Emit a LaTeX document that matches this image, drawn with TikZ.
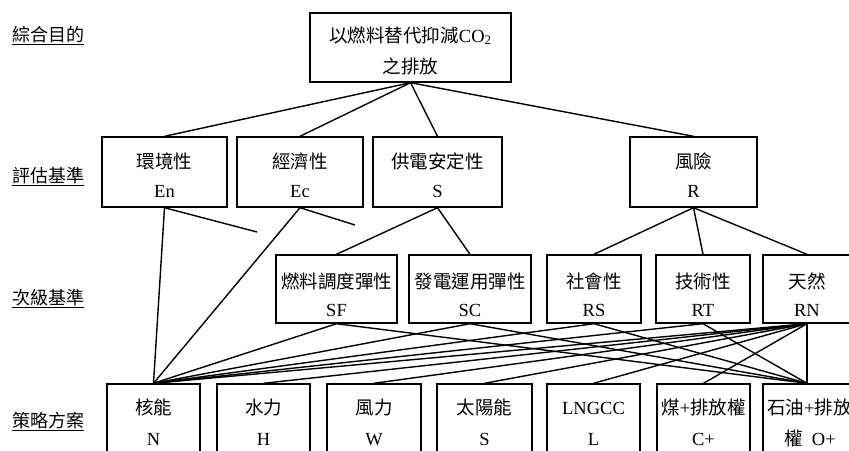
\documentclass[tikz,border=0pt]{standalone}
\usepackage{fontspec}
\setmainfont{Liberation Serif}
\newfontfamily\cjk{Noto Sans CJK TC}
\begin{document}
\begin{tikzpicture}[x=1pt,y=-1pt,
  box/.style={draw,line width=1.4pt,rectangle,inner sep=0pt},
  ln/.style={line width=1.4pt},
  tc/.style={anchor=base,inner sep=0pt,font=\fontsize{18.5}{22}\selectfont},
  lv/.style={anchor=base,inner sep=0pt,font=\cjk\fontsize{18}{22}\selectfont}]
\useasboundingbox (0,0) rectangle (849,450);
\fill[white] (0,0) rectangle (849,450);
\begin{scope}
\clip (0,0) rectangle (849,450);
% level labels
\node[lv] (L1) at (48.5,41.5) {\underline{綜合目的}};
\node[lv] (L2) at (48.5,182) {\underline{評估基準}};
\node[lv] (L3) at (48.5,304.5) {\underline{次級基準}};
\node[lv] (L4) at (48.5,427) {\underline{策略方案}};
% goal
\node[box,minimum width=201pt,minimum height=69pt] (G) at (410.5,47.5) {};
\node[tc] (Ga) at (410.5,42) {{\cjk 以燃料替代抑減}CO\textsubscript{2}};
\node[tc] (Gb) at (410.5,73) {\cjk 之排放};
% criteria
\node[box,minimum width=125pt,minimum height=70pt] (En) at (164.5,172) {};
\node[box,minimum width=126pt,minimum height=70pt] (Ec) at (300,172) {};
\node[box,minimum width=129pt,minimum height=70pt] (S) at (437.5,172) {};
\node[box,minimum width=127pt,minimum height=70pt] (R) at (693.5,172) {};
\node[tc] (Ena) at (164.5,168.5) {\cjk 環境性};
\node[tc] (Enb) at (164.5,197) {En};
\node[tc] (Eca) at (300,168.5) {\cjk 經濟性};
\node[tc] (Ecb) at (300,197) {Ec};
\node[tc] (Sa) at (437.5,168.5) {\cjk 供電安定性};
\node[tc] (Sb) at (437.5,197) {S};
\node[tc] (Ra) at (693.5,168.5) {\cjk 風險};
\node[tc] (Rb) at (693.5,197) {R};
% sub-criteria
\node[box,minimum width=121pt,minimum height=68pt] (SF) at (336.5,289) {};
\node[box,minimum width=122pt,minimum height=68pt] (SC) at (470,289) {};
\node[box,minimum width=94pt,minimum height=68pt] (RS) at (594,289) {};
\node[box,minimum width=94pt,minimum height=68pt] (RT) at (703,289) {};
\node[box,minimum width=88pt,minimum height=68pt] (RN) at (807,289) {};
\node[tc] (SFa) at (336.5,288) {\cjk 燃料調度彈性};
\node[tc] (SFb) at (336.5,316) {SF};
\node[tc] (SCa) at (470,288) {\cjk 發電運用彈性};
\node[tc] (SCb) at (470,316) {SC};
\node[tc] (RSa) at (594,288) {\cjk 社會性};
\node[tc] (RSb) at (594,316) {RS};
\node[tc] (RTa) at (703,288) {\cjk 技術性};
\node[tc] (RTb) at (703,316) {RT};
\node[tc] (RNa) at (807,288) {\cjk 天然};
\node[tc] (RNb) at (807,316) {RN};
% alternatives
\node[box,minimum width=93pt,minimum height=80pt] (N) at (153.5,424) {};
\node[box,minimum width=93pt,minimum height=80pt] (H) at (263.5,424) {};
\node[box,minimum width=94pt,minimum height=80pt] (W) at (374,424) {};
\node[box,minimum width=95pt,minimum height=80pt] (SS) at (484.5,424) {};
\node[box,minimum width=93pt,minimum height=80pt] (L) at (593.5,424) {};
\node[box,minimum width=93pt,minimum height=80pt] (C) at (703.5,424) {};
\node[box,minimum width=88pt,minimum height=80pt] (O) at (807,424) {};
\node[tc] (Na) at (153.5,414.5) {\cjk 核能};
\node[tc] (Nb) at (153.5,445) {N};
\node[tc] (Ha) at (263.5,414.5) {\cjk 水力};
\node[tc] (Hb) at (263.5,445) {H};
\node[tc] (Wa) at (374,414.5) {\cjk 風力};
\node[tc] (Wb) at (374,445) {W};
\node[tc] (SSa) at (484.5,414.5) {\cjk 太陽能};
\node[tc] (SSb) at (484.5,445) {S};
\node[tc] (La) at (593.5,414.5) {LNGCC};
\node[tc] (Lb) at (593.5,445) {L};
\node[tc] (Ca) at (703.5,414.5) {{\cjk 煤}+{\cjk 排放權}};
\node[tc] (Cb) at (703.5,445) {C+};
\node[tc,anchor=base west] (Oa) at (767,414.5) {{\cjk 石油}+{\cjk 排放}};
\node[tc] (Ob) at (810,445) {{\cjk 權}\ \ O+};
% connectors
\draw[ln] (G.south) -- (En.north);
\draw[ln] (G.south) -- (Ec.north);
\draw[ln] (G.south) -- (S.north);
\draw[ln] (G.south) -- (R.north);
\coordinate (enD) at (257,232);
\coordinate (ecD) at (355,225);
\draw[ln] (En.south) -- (enD);
\draw[ln] (Ec.south) -- (ecD);
\draw[ln] (En.south) -- (N.north);
\draw[ln] (Ec.south) -- (N.north);
\draw[ln] (S.south) -- (SF.north);
\draw[ln] (S.south) -- (SC.north);
\draw[ln] (R.south) -- (RS.north);
\draw[ln] (R.south) -- (RT.north);
\draw[ln] (R.south) -- (RN.north);
\foreach \s in {SF,SC,RS,RT,RN} {
  \draw[ln] (\s.south) -- (N.north);
  \draw[ln] (\s.south) -- (O.north);
}
\foreach \a in {H,W,SS,L,C} {
  \draw[ln] (RN.south) -- (\a.north);
}
\end{scope}
\end{tikzpicture}
\end{document}
